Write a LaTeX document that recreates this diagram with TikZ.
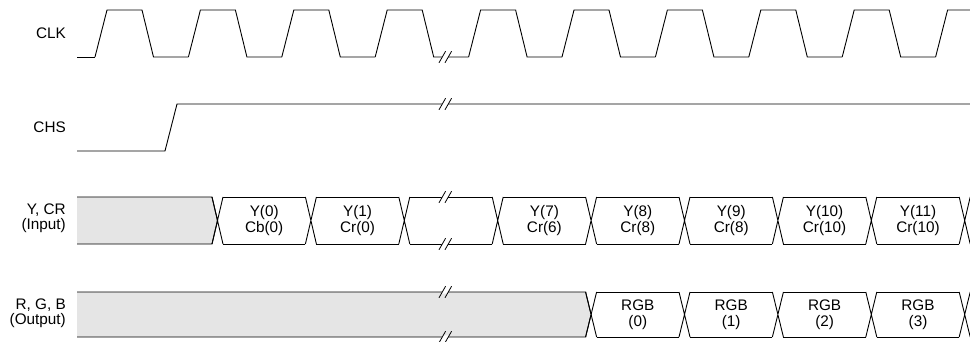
\documentclass[tikz,border=0pt]{standalone}
\usepackage{fontspec}
\setmainfont{Liberation Sans}
\usetikzlibrary{positioning}

\begin{document}
\begin{tikzpicture}[x=1pt,y=-1pt,
signame/.style={
% label left of a trace
anchor=east,align=right,inner sep=0pt,
font=\fontsize{15.3}{15}\selectfont},
busdata/.style={align=center,inner sep=0pt,
font=\fontsize{15.3}{15.5}\selectfont},
wave/.style={line width=0.9pt,line join=miter},
idle/.style={fill=black!10}]

\useasboundingbox (0,0) rectangle (970,342);

\node (clk) [signame] at (66,33.5) {CLK};
\node (chs) [signame] at (66,127.5) {CHS};
\node (ycr) [signame] at (66,218.5) {Y, CR\\(Input)};
\node (rgb) [signame] at (66,313) {R, G, B\\(Output)};

\begin{scope}
\clip (0,0) rectangle (970,342);
% clock
\draw[wave] (77,57) -- (95,57);
\foreach \k in {0,...,9}
  \draw[wave] ({95+93.4*\k},57) -- ({107+93.4*\k},10) -- ({142+93.4*\k},10)
    -- ({153.5+93.4*\k},57) -- ({188.4+93.4*\k},57);
% CHS
\draw[wave] (77,151) -- (165,151) -- (177,104) -- (970,104);

% Y, CR bus
\fill[idle] (77,197) -- (212,197) -- (217.5,220.5) -- (212,244) -- (77,244) -- cycle;
\draw[wave] (77,197) -- (212,197) -- (217.5,220.5) -- (212,244) -- (77,244);
\foreach \i in {0,...,8} {
  \draw[wave] ({212+93.4*\i},197) -- ({223+93.4*\i},244)
    ({212+93.4*\i},244) -- ({223+93.4*\i},197);
  \draw[wave] ({223+93.4*\i},197) -- ({305.4+93.4*\i},197)
    ({223+93.4*\i},244) -- ({305.4+93.4*\i},244);
}
\foreach \i/\ya/\yb in {0/Y(0)/Cb(0),1/Y(1)/Cr(0),3/Y(7)/Cr(6),4/Y(8)/Cr(8),
  5/Y(9)/Cr(8),6/Y(10)/Cr(10),7/Y(11)/Cr(10)}
  \node (yc\i) [busdata] at ({264.2+93.4*\i},220.5) {\ya\\\yb};

% R, G, B bus
\fill[idle] (77,292) -- (585.6,292) -- (591.1,314.5) -- (585.6,337) -- (77,337) -- cycle;
\draw[wave] (77,292) -- (585.6,292) -- (591.1,314.5) -- (585.6,337) -- (77,337);
\foreach \i in {4,...,8} {
  \draw[wave] ({212+93.4*\i},292) -- ({223+93.4*\i},337)
    ({212+93.4*\i},337) -- ({223+93.4*\i},292);
  \draw[wave] ({223+93.4*\i},292) -- ({305.4+93.4*\i},292)
    ({223+93.4*\i},337) -- ({305.4+93.4*\i},337);
}
\foreach \i/\n in {4/0,5/1,6/2,7/3}
  \node (rgb\i) [busdata] at ({264.2+93.4*\i},314.5) {RGB\\(\n)};

% breaks
\foreach \y in {57,104,197,244,292,337} {
  \fill[white] (441.2,\y+1.6) -- (443.1,\y-1.6) -- (449.1,\y-1.6) -- (447.2,\y+1.6) -- cycle;
  \draw[line width=0.8pt] (439,\y+5.8) -- (445.6,\y-5.8) (445,\y+5.8) -- (451.6,\y-5.8);
}
\end{scope}

\end{tikzpicture}
\end{document}
